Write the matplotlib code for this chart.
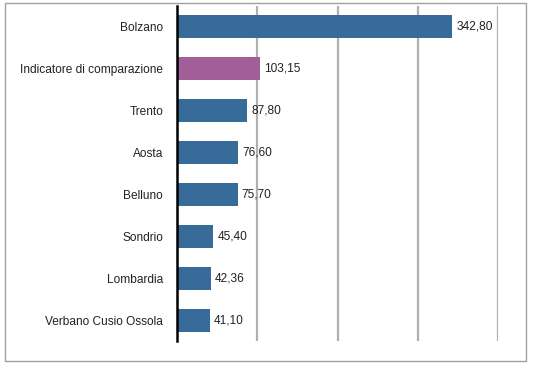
import matplotlib
matplotlib.use("Agg")
import matplotlib.pyplot as plt
from matplotlib.patches import Rectangle

plt.rcParams['font.family'] = ['Liberation Sans', 'DejaVu Sans']

# data
categories = ['Bolzano', 'Indicatore di comparazione', 'Trento', 'Aosta',
              'Belluno', 'Sondrio', 'Lombardia', 'Verbano Cusio Ossola']
values = [342.80, 103.15, 87.80, 76.60, 75.70, 45.40, 42.36, 41.10]
highlight = 'Indicatore di comparazione'

blue = '#376c9a'
purple = '#a15e99'
colors = [purple if c == highlight else blue for c in categories]

fig = plt.figure(figsize=(5.37, 3.69), dpi=100)
ax = fig.add_axes([177 / 537, 1 - 341 / 369, (498 - 177) / 537, (341 - 6) / 369])

# outer grey frame around the whole chart
fig.patches.append(Rectangle((5 / 537, 1 - 361 / 369), 521 / 537, 358 / 369,
                             transform=fig.transFigure, fill=False,
                             edgecolor='#a0a0a0', linewidth=1.0))

ypos = list(range(len(categories)))
ax.barh(ypos, values, height=0.55, color=colors, zorder=3)

for y, v in zip(ypos, values):
    label = f'{v:.2f}'.replace('.', ',')
    ax.text(v + 5, y, label, va='center', ha='left', fontsize=8.6, color='#222222', zorder=4)

ax.set_xlim(0, 400)
ax.set_ylim(len(categories) - 0.5, -0.5)
ax.set_xticks([100, 200, 300, 400])
ax.set_xticklabels([])
ax.tick_params(axis='x', length=0)
ax.grid(axis='x', color='#b0b0b0', linewidth=1.6, zorder=0)
ax.set_axisbelow(True)

ax.set_yticks(ypos)
ax.set_yticklabels(categories, fontsize=8.6, color='#222222')
ax.tick_params(axis='y', length=0, pad=10)

for side in ['top', 'right', 'bottom']:
    ax.spines[side].set_visible(False)
ax.spines['left'].set_linewidth(1.8)
ax.spines['left'].set_color('black')
ax.spines['left'].set_zorder(5)

fig.savefig('out.png', dpi=100)
